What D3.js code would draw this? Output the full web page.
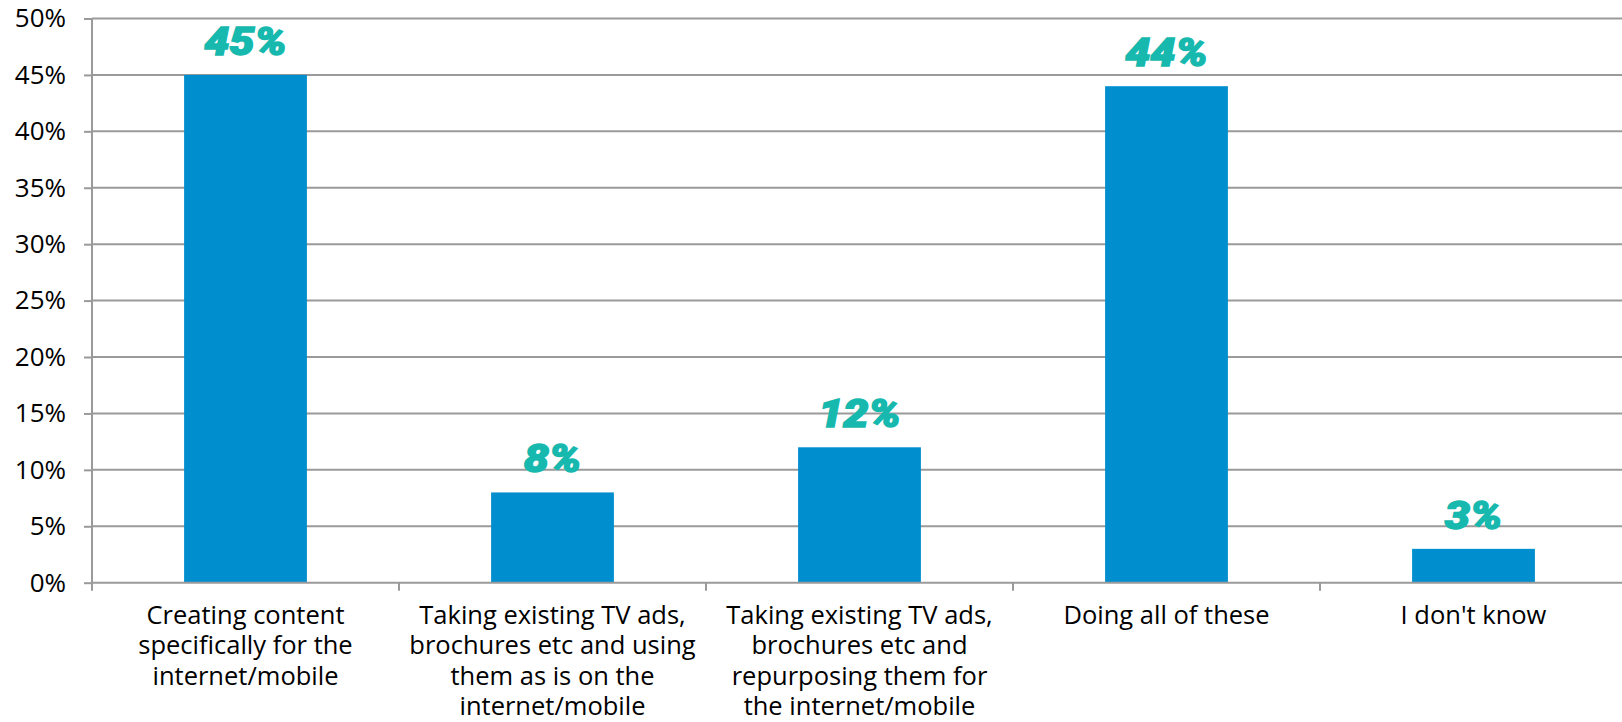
<!DOCTYPE html>
<html><head><meta charset="utf-8">
<script src="https://cdn.jsdelivr.net/npm/d3@7"></script>
<style>
html,body{margin:0;padding:0;background:#fff;}
svg{display:block;}
</style></head>
<body>
<svg id="chart" width="1622" height="722"></svg>
<script>
const categories = [
  "Creating content specifically for the internet/mobile",
  "Taking existing TV ads, brochures etc and using them as is on the internet/mobile",
  "Taking existing TV ads, brochures etc and repurposing them for the internet/mobile",
  "Doing all of these",
  "I don't know"
];
const categoryLines = [
  ["Creating content", "specifically for the", "internet/mobile"],
  ["Taking existing TV ads,", "brochures etc and using", "them as is on the", "internet/mobile"],
  ["Taking existing TV ads,", "brochures etc and", "repurposing them for", "the internet/mobile"],
  ["Doing all of these"],
  ["I don't know"]
];
const values = [45, 8, 12, 44, 3];
const yTicks = [0, 5, 10, 15, 20, 25, 30, 35, 40, 45, 50];

const svg = d3.select("#chart");
const mLeft = 92, mRight = 1622, mTop = 18.5, mBottom = 582.7;
const axisFont = "'Open Sans', 'Noto Sans', sans-serif";

const x = d3.scaleBand().domain(categories).range([mLeft, mLeft + 307 * 5]).paddingInner(0.6).paddingOuter(0.3);
const xb = d3.scaleBand().domain(categories).range([mLeft, mLeft + 307 * 5]).padding(0);
const y = d3.scaleLinear().domain([0, 50]).range([mBottom, mTop]);

// gridlines
svg.append("g").selectAll("line").data(yTicks.filter(d => d > 0)).join("line")
  .attr("x1", mLeft).attr("x2", mRight)
  .attr("y1", d => y(d)).attr("y2", d => y(d))
  .attr("stroke", "#9a9a9a").attr("stroke-width", 2);

// bars
svg.append("g").selectAll("rect").data(values).join("rect")
  .attr("x", (d, i) => x(categories[i]))
  .attr("width", x.bandwidth())
  .attr("y", d => y(d))
  .attr("height", d => y(0) - y(d))
  .attr("fill", "#008ECE");

// y axis
const yAxis = d3.axisLeft(y).tickValues(yTicks).tickFormat(d => d + "%").tickSize(8).tickPadding(18);
const gy = svg.append("g").attr("transform", `translate(${mLeft},0)`).call(yAxis);
gy.select(".domain").attr("stroke", "#9a9a9a").attr("stroke-width", 2).attr("d", `M0,${mTop}V${mBottom}`);
gy.selectAll(".tick line").attr("stroke", "#9a9a9a").attr("stroke-width", 2);
gy.selectAll(".tick text").attr("fill", "#000").style("font-family", axisFont).style("font-size", "26px");

// x axis
const xAxis = d3.axisBottom(xb).tickSize(0).tickFormat("");
const gx = svg.append("g").attr("transform", `translate(0,${mBottom})`).call(xAxis);
gx.select(".domain").attr("stroke", "#9a9a9a").attr("stroke-width", 2).attr("d", `M${mLeft},0H${mRight}`);
gx.selectAll(".tick").remove();
const sepTicks = d3.range(categories.length + 1).map(i => mLeft + xb.step() * i);
gx.append("g").selectAll("line").data(sepTicks).join("line")
  .attr("x1", d => d).attr("x2", d => d).attr("y1", 0).attr("y2", 8)
  .attr("stroke", "#9a9a9a").attr("stroke-width", 2);

// category labels
const lab = svg.append("g").selectAll("text").data(categoryLines).join("text")
  .attr("text-anchor", "middle")
  .attr("fill", "#000")
  .style("font-family", axisFont).style("font-size", "25.5px");
lab.each(function(lines, i) {
  const cx = xb(categories[i]) + xb.bandwidth() / 2;
  d3.select(this).selectAll("tspan").data(lines).join("tspan")
    .attr("x", cx).attr("y", (d, j) => mBottom + 41 + j * 30.5).text(d => d);
});

// value labels
svg.append("g").selectAll("text").data(values).join("text")
  .attr("transform", (d, i) => `translate(${x(categories[i]) + x.bandwidth() / 2},${y(d) - 20}) scale(1.18,1)`)
  .attr("text-anchor", "middle")
  .attr("fill", "#17B9AE")
  .attr("stroke", "#17B9AE").attr("stroke-width", 1.4)
  .style("font-family", "Roboto, 'Open Sans', sans-serif")
  .style("font-weight", 900).style("font-style", "italic")
  .style("font-size", "38px")
  .text(d => d + "%");
</script>
</body></html>
